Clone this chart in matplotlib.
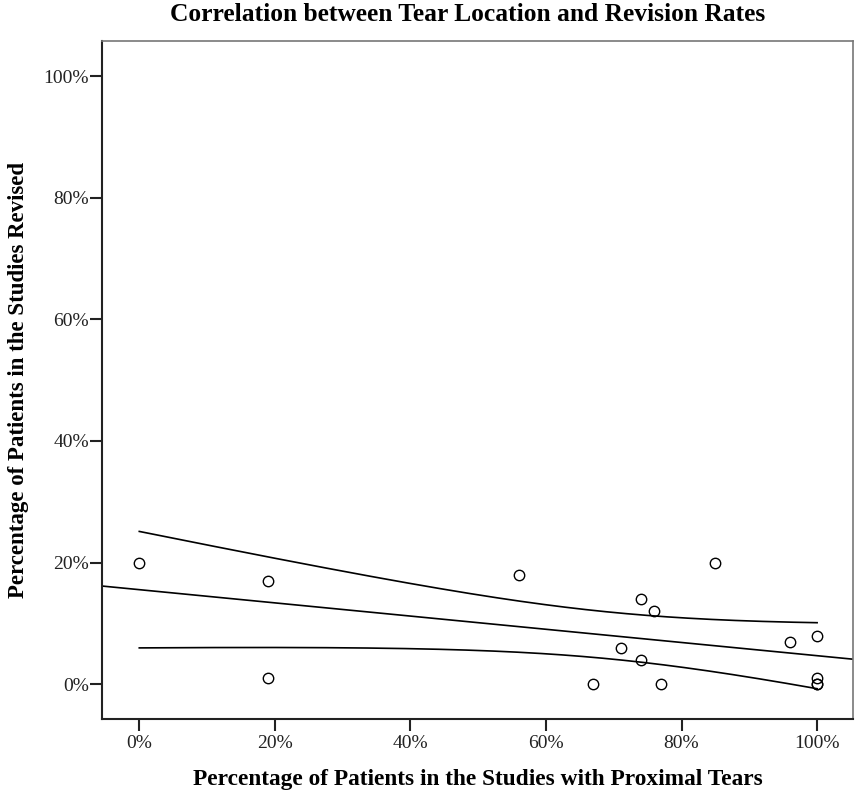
import numpy as np
import matplotlib
matplotlib.use("Agg")
import matplotlib.pyplot as plt
from matplotlib.ticker import FuncFormatter

# percentage of patients with proximal tears (x) vs percentage revised (y)
# (two studies sit on top of each other at 100% / 0%)
proximal = [0, 19, 19, 56, 67, 71, 74, 74, 76, 77, 85, 96, 100, 100, 100, 100]
revised = [20, 17, 1, 18, 0, 6, 14, 4, 12, 0, 20, 7, 8, 1, 0, 0]
ticks = [0, 20, 40, 60, 80, 100]

plt.rcParams['font.family'] = ['Liberation Serif', 'DejaVu Serif']

x = np.array(proximal, dtype=float)
y = np.array(revised, dtype=float)
n = len(x)

# linear fit with 95% confidence band of the mean
slope, icpt = np.polyfit(x, y, 1)
resid = y - (slope * x + icpt)
s = np.sqrt(np.sum(resid ** 2) / (n - 2))
sxx = np.sum((x - x.mean()) ** 2)
t_crit = 2.1448  # t(0.975, df=14)

fig = plt.figure(figsize=(8.55, 7.92), dpi=100)
ax = fig.add_axes([0.1193, 0.0922, 0.8784, 0.856])

xl = (-5.5, 105.3)
xs = np.linspace(xl[0], xl[1], 200)
ax.plot(xs, slope * xs + icpt, color='black', lw=1.2)

xb = np.linspace(x.min(), x.max(), 200)
half = t_crit * s * np.sqrt(1.0 / n + (xb - x.mean()) ** 2 / sxx)
ax.plot(xb, slope * xb + icpt + half, color='black', lw=1.2)
ax.plot(xb, slope * xb + icpt - half, color='black', lw=1.2)

ax.plot(x, y, 'o', markerfacecolor='none', markeredgecolor='black',
        markersize=7.5, markeredgewidth=1.0)

ax.set_xlim(*xl)
ax.set_ylim(-5.7, 105.75)
ax.set_xticks(ticks)
ax.set_yticks(ticks)
pct = FuncFormatter(lambda v, p: '%d%%' % v)
ax.xaxis.set_major_formatter(pct)
ax.yaxis.set_major_formatter(pct)
ax.tick_params(direction='out', length=8.5, width=1.5, labelsize=14, colors='#222222')
ax.tick_params(axis='y', pad=1)
ax.tick_params(axis='x', pad=3)

for side in ['left', 'bottom']:
    ax.spines[side].set_linewidth(1.5)
    ax.spines[side].set_color('#222222')
for side in ['top', 'right']:
    ax.spines[side].set_linewidth(1.2)
    ax.spines[side].set_color('#777777')

fig.text(0.547, 0.982, 'Correlation between Tear Location and Revision Rates',
         ha='center', va='center', fontsize=18.4, fontweight='bold')
ax.set_xlabel('Percentage of Patients in the Studies with Proximal Tears',
              fontsize=16.8, fontweight='bold', labelpad=12)
ax.set_ylabel('Percentage of Patients in the Studies Revised',
              fontsize=16.5, fontweight='bold', labelpad=10)

fig.savefig('out.png', dpi=100)
